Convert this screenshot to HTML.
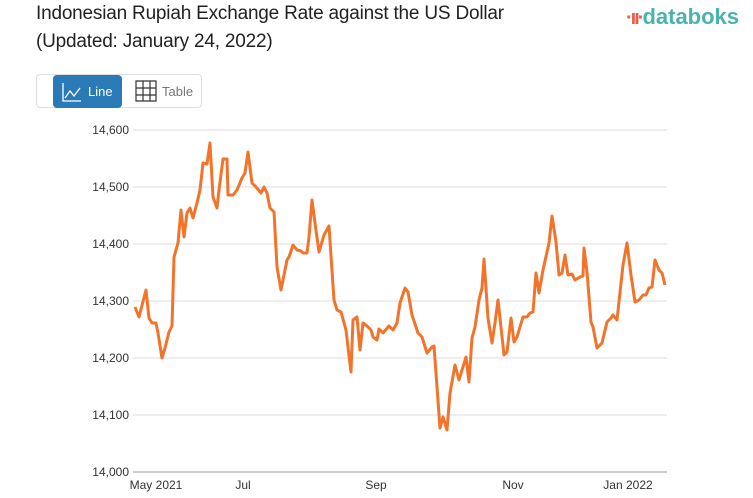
<!DOCTYPE html>
<html><head><meta charset="utf-8"><style>
body{margin:0;background:#fff;width:753px;height:498px;overflow:hidden;font-family:"Liberation Sans",sans-serif;}
.t{position:absolute;left:36px;font-size:19px;color:#222;letter-spacing:-0.2px}
</style></head><body>
<div class="t" style="top:3px">Indonesian Rupiah Exchange Rate against the US Dollar</div>
<div class="t" style="top:31px">(Updated: January 24, 2022)</div>
<div style="position:absolute;left:626px;top:4px;font-size:22px;color:#4ab3ad;font-weight:bold;">
<span style="color:#e8604c;font-size:20px;letter-spacing:-2px">·ıı·</span>databoks</div>
<div style="position:absolute;left:36px;top:74px;width:166px;height:34px;border:1px solid #ddd;border-radius:4px;box-sizing:border-box;"></div>
<div style="position:absolute;left:53px;top:75px;width:69px;height:33px;background:#2a7ab8;border-radius:4px;color:#fff;font-size:13px;">
<svg style="position:absolute;left:9px;top:7px" width="20" height="20"><path d="M1 1V19H19M3 16L8 9L12 14L18 6" stroke="#fff" fill="none" stroke-width="1.3"/></svg>
<span style="position:absolute;left:35px;top:9px">Line</span></div>
<svg style="position:absolute;left:135px;top:80px" width="22" height="22"><path d="M1 1H21V21H1ZM1 8H21M1 15H21M8 1V21M15 1V21" stroke="#333" fill="none" stroke-width="1.2"/></svg>
<div style="position:absolute;left:162px;top:84px;font-size:13px;color:#777">Table</div>
<svg style="position:absolute;left:0;top:0" width="753" height="498">
<g stroke="#ddd" stroke-width="1">
<line x1="133" x2="667" y1="130" y2="130"/><line x1="133" x2="667" y1="187" y2="187"/><line x1="133" x2="667" y1="244" y2="244"/><line x1="133" x2="667" y1="301" y2="301"/><line x1="133" x2="667" y1="358" y2="358"/><line x1="133" x2="667" y1="415" y2="415"/></g>
<line x1="133" x2="667" y1="472" y2="472" stroke="#999"/>
<g font-size="12" fill="#333" text-anchor="end"><text x="129" y="134">14,600</text><text x="129" y="191">14,500</text><text x="129" y="248">14,400</text><text x="129" y="305">14,300</text><text x="129" y="362">14,200</text><text x="129" y="419">14,100</text><text x="129" y="476">14,000</text></g>
<g font-size="12" fill="#333" text-anchor="middle"><text x="156" y="489">May 2021</text><text x="243" y="489">Jul</text><text x="376" y="489">Sep</text><text x="513" y="489">Nov</text><text x="628" y="489">Jan 2022</text></g>
<polyline fill="none" stroke="#f27329" stroke-width="3" stroke-linejoin="round" points="135,307 139,317 146,290 149,318 152,323 156,323 158,333 162,358 165,348 169,332 172,326 174,257 178,243 181,210 184,237 187,213 190,208 193,218 197,203 200,190 203,163 207,164 210,143 213,197 217,208 219,190 223,159 227,159 228,195 233,195 237,190 242,178 245,173 248,152 252,183 256,187 261,193 264,187 267,193 270,208 274,212 277,267 281,290 287,260 289,257 293,245 297,250 301,251 303,253 307,253 309,237 312,200 315,223 319,252 324,235 329,226 334,300 337,310 341,312 346,330 348,347 351,372 353,320 357,317 360,350 363,323 367,326 371,330 373,337 377,340 379,329 383,333 389,326 393,330 397,323 400,303 402,297 405,288 408,292 412,315 418,333 422,337 427,353 432,347 434,346 440,428 443,417 447,430 450,393 455,365 459,380 466,357 469,382 472,338 475,327 479,300 482,288 484,259 488,318 492,343 495,323 498,300 504,355 507,352 511,318 514,342 517,337 523,317 527,317 530,313 533,312 536,273 539,293 543,270 549,243 552,216 556,242 559,275 562,273 565,255 568,275 572,274 575,280 580,277 583,276 584,248 587,272 591,322 593,327 597,348 602,343 607,322 611,318 613,315 617,320 623,265 627,243 631,275 635,302 639,300 643,295 646,295 649,288 652,287 655,260 659,270 662,273 665,285"/>
</svg>
</body></html>
